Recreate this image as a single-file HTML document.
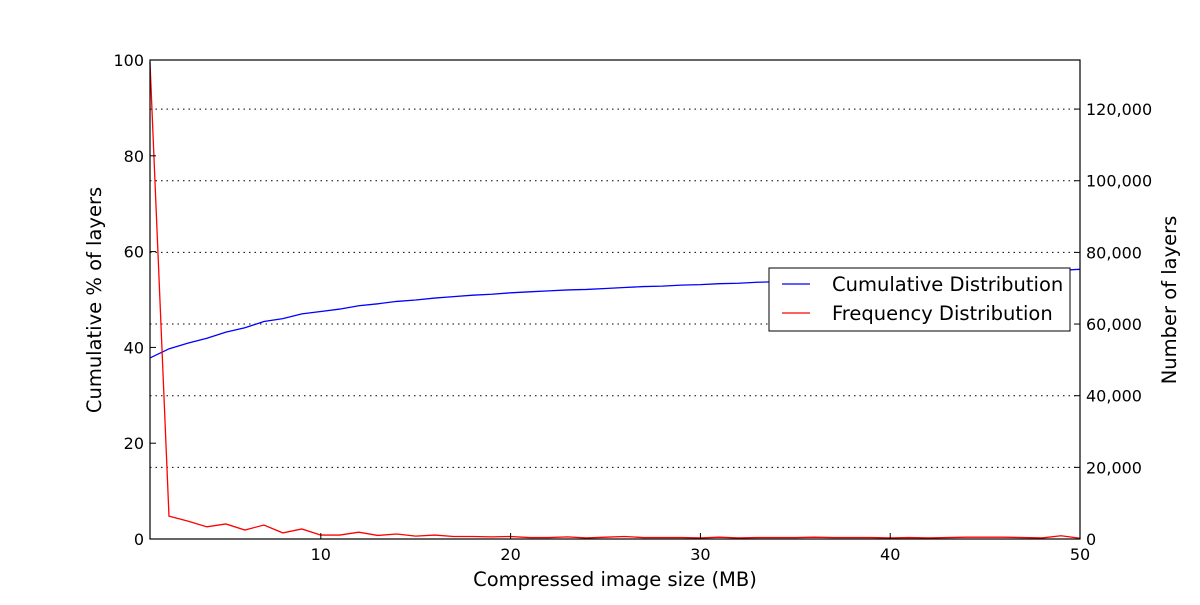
<!DOCTYPE html>
<html><head><meta charset="utf-8"><style>
body{margin:0;background:#fff}
svg text{font-family:"DejaVu Sans","Liberation Sans",sans-serif;fill:#000}
</style></head><body>
<svg id="chart" width="1200" height="600">
<g id="grid"></g>
<g id="series"></g>
<rect x="150" y="60" width="930" height="479" fill="none" stroke="#000" stroke-width="1.2"/>
<g id="axes"></g>
<text x="615" y="586" font-size="19.5" text-anchor="middle">Compressed image size (MB)</text>
<text transform="translate(101,300) rotate(-90)" font-size="19.5" text-anchor="middle">Cumulative % of layers</text>
<text transform="translate(1176,300) rotate(-90)" font-size="19.5" text-anchor="middle">Number of layers</text>
<g>
<rect x="769" y="268" width="301" height="63" fill="#fff" stroke="#000" stroke-width="1"/>
<line x1="782" y1="284" x2="810" y2="284" stroke="#0000ff" stroke-width="1.3"/>
<text x="832" y="291" font-size="19.5">Cumulative Distribution</text>
<line x1="782" y1="313" x2="810" y2="313" stroke="#ff0000" stroke-width="1.3"/>
<text x="832" y="320" font-size="19.5">Frequency Distribution</text>
</g>
</svg>
<script>
const sizes = Array.from({length:50},(_, i)=>i+1);
const cumulative = [37.8,39.7,40.9,41.9,43.2,44.1,45.4,46.0,47.0,47.5,48.0,48.7,49.1,49.6,49.9,50.3,50.6,50.9,51.1,51.4,51.6,51.8,52.0,52.1,52.3,52.5,52.7,52.8,53.0,53.1,53.3,53.4,53.6,53.7,53.9,54.0,54.2,54.3,54.5,54.6,54.8,54.9,55.1,55.3,55.4,55.6,55.7,55.9,56.1,56.3];
const frequency = [133000,6400,5000,3400,4200,2500,3900,1700,2800,1100,1100,1900,1000,1400,800,1100,700,700,600,700,400,400,600,300,500,700,400,400,400,300,500,300,400,400,400,500,400,400,400,300,400,300,400,500,500,500,400,300,900,200];
const xTicks = [10,20,30,40,50];
const leftTicks = [0,20,40,60,80,100];
const rightTicks = [0,20000,40000,60000,80000,100000,120000];
const rightMax = 133700;

const NS='http://www.w3.org/2000/svg';
const X0=150,X1=1080,Y0=539,Y1=60;
const xs=v=>X0+(v-1)/(50-1)*(X1-X0);
const yl=v=>Y0-v/100*(Y0-Y1);
const yr=v=>Y0-v/rightMax*(Y0-Y1);
function mk(tag,attrs,parent){const e=document.createElementNS(NS,tag);for(const k in attrs)e.setAttribute(k,attrs[k]);parent.appendChild(e);return e;}
const grid=document.getElementById('grid'),axes=document.getElementById('axes'),series=document.getElementById('series');
rightTicks.forEach(t=>{const y=yr(t);
 if(t>0){const g=mk('line',{x1:X0,x2:X1,y1:y,y2:y,stroke:'#000','stroke-dasharray':'1.5,4','stroke-width':1},grid);
 
 }
 mk('line',{x1:X1,x2:X1-6,y1:y,y2:y,stroke:'#000'},axes);
 const tx=mk('text',{x:X1+6,y:y+6,'font-size':16},axes);tx.textContent=t.toLocaleString('en-US');
 
 
});
leftTicks.forEach(t=>{const y=yl(t);
 mk('line',{x1:X0,x2:X0+6,y1:y,y2:y,stroke:'#000'},axes);
 const tx=mk('text',{x:X0-6,y:y+6,'font-size':16,'text-anchor':'end'},axes);tx.textContent=t;
 
 
});
xTicks.forEach(t=>{const x=xs(t);
 mk('line',{x1:x,x2:x,y1:Y0,y2:Y0-6,stroke:'#000'},axes);
 const tx=mk('text',{x:x,y:Y0+21,'font-size':16,'text-anchor':'middle'},axes);tx.textContent=t;
 
 
});
const cl=mk('polyline',{points:sizes.map((s,i)=>xs(s)+','+yl(cumulative[i])).join(' '),fill:'none',stroke:'#0000ff','stroke-width':1.3},series);


const fl=mk('polyline',{points:sizes.map((s,i)=>xs(s)+','+yr(frequency[i])).join(' '),fill:'none',stroke:'#ff0000','stroke-width':1.3},series);


</script>
</body></html>
